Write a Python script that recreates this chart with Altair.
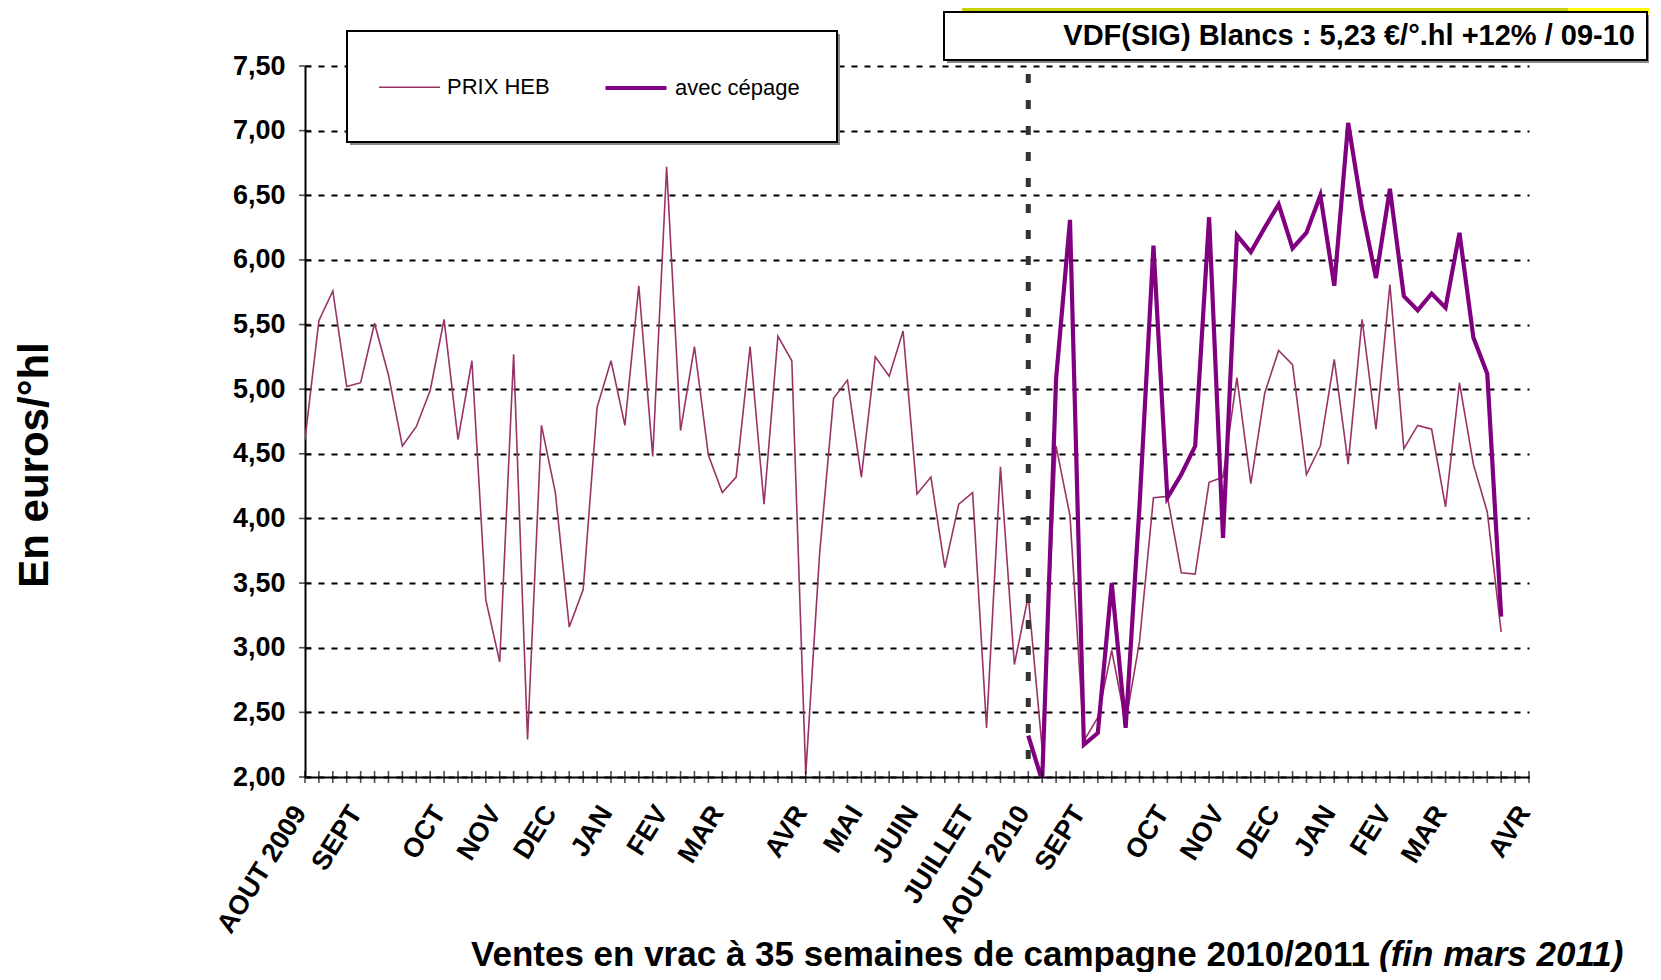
import altair as alt
import pandas as pd

# ---------------- data ----------------
weeks_heb = list(range(87))
prix_heb = [4.61, 5.53, 5.76, 5.02, 5.05, 5.51, 5.11, 4.56, 4.71, 4.99,
            5.54, 4.61, 5.22, 3.37, 2.89, 5.27, 2.29, 4.72, 4.20, 3.16,
            3.45, 4.86, 5.22, 4.72, 5.80, 4.48, 6.72, 4.68, 5.33, 4.49,
            4.20, 4.32, 5.33, 4.11, 5.41, 5.22, 2.02, 3.73, 4.93, 5.07,
            4.32, 5.25, 5.10, 5.45, 4.19, 4.32, 3.62, 4.11, 4.20, 2.38,
            4.40, 2.87, 3.40, 2.22, 4.56, 4.02, 2.28, 2.46, 2.98, 2.42,
            3.05, 4.16, 4.17, 3.58, 3.57, 4.28, 4.32, 5.09, 4.27, 4.97,
            5.30, 5.19, 4.34, 4.56, 5.23, 4.42, 5.54, 4.69, 5.81, 4.54,
            4.72, 4.69, 4.09, 5.05, 4.42, 4.05, 3.12]

weeks_cep = list(range(52, 87))
avec_cepage = [2.32, 1.97, 5.08, 6.31, 2.25, 2.34, 3.50, 2.38, 4.10, 6.11,
               4.16, 4.34, 4.56, 6.33, 3.85, 6.19, 6.06, 6.25, 6.43, 6.09,
               6.21, 6.50, 5.80, 7.06, 6.39, 5.86, 6.55, 5.72, 5.61, 5.74,
               5.63, 6.21, 5.40, 5.12, 3.24]

series_names = ["PRIX HEB", "avec cépage"]
series_colors = ["#993366", "#800080"]
series_widths = [1.6, 4.2]

x_label_pos = [0, 4, 10, 14, 18, 22, 26, 30, 36, 40, 44, 48,
               52, 56, 62, 66, 70, 74, 78, 82, 88]
x_label_txt = ["AOUT 2009", "SEPT", "OCT", "NOV", "DEC", "JAN", "FEV", "MAR",
               "AVR", "MAI", "JUIN", "JUILLET", "AOUT 2010", "SEPT", "OCT",
               "NOV", "DEC", "JAN", "FEV", "MAR", "AVR"]
week_ticks = list(range(0, 89))
y_ticks = [2.0, 2.5, 3.0, 3.5, 4.0, 4.5, 5.0, 5.5, 6.0, 6.5, 7.0, 7.5]
campaign_start = 52

title_text = "VDF(SIG) Blancs : 5,23 €/°.hl +12% / 09-10"
y_title = "En euros/°hl"
x_title_main = "Ventes en vrac à 35 semaines de campagne 2010/2011"
x_title_italic = "(fin mars 2011)"

FONT = "Liberation Sans, Arial, Helvetica, sans-serif"
W, H = 1224, 711

df = pd.DataFrame({
    "semaine": weeks_heb + weeks_cep,
    "prix": prix_heb + avec_cepage,
    "serie": [series_names[0]] * len(weeks_heb) + [series_names[1]] * len(weeks_cep),
})

xscale = alt.Scale(domain=[0, 88], nice=False, zero=False)
yscale = alt.Scale(domain=[2, 7.5], nice=False, zero=False)

label_expr = "''"
for p, t in reversed(list(zip(x_label_pos, x_label_txt))):
    label_expr = f"datum.value == {p} ? '{t}' : " + label_expr

x_axis = alt.Axis(values=x_label_pos, labelExpr=label_expr, labelAngle=-58,
                  labelAlign="right", labelBaseline="middle", labelFont=FONT,
                  labelFontSize=27, labelFontWeight="bold", labelColor="black",
                  labelPadding=31, labelOffset=-5, ticks=False, domainColor="black",
                  domainWidth=2, grid=False, title=None, labelOverlap=False,
                  labelFlush=False)
y_axis = alt.Axis(values=y_ticks, labelExpr="replace(format(datum.value, '.2f'), '.', ',')",
                  labelFont=FONT, labelFontSize=27, labelFontWeight="bold",
                  labelColor="black", labelPadding=20, ticks=False,
                  domainColor="black", domainWidth=2, grid=True, gridColor="black",
                  gridDash=[6, 7], gridWidth=2, title=None)

legend = alt.Legend(orient="none", legendX=73, legendY=-11, direction="horizontal",
                    title=None, symbolType="stroke", symbolSize=3721,
                    labelFont=FONT, labelFontSize=22, labelColor="black",
                    labelOffset=6, columnPadding=47, padding=0)

one = pd.DataFrame({"k": [0]})

# decorative bar + title box
bar_green = alt.Chart(one).mark_rect(color="#c8d400").encode(
    x=alt.value(657), x2=alt.value(1263), y=alt.value(-58), y2=alt.value(-52))
bar_yellow = alt.Chart(one).mark_rect(color="#ffff00").encode(
    x=alt.value(1263), x2=alt.value(1345), y=alt.value(-58), y2=alt.value(-52))
title_shadow = alt.Chart(one).mark_rect(fill="#888888").encode(
    x=alt.value(642), x2=alt.value(1345), y=alt.value(-51), y2=alt.value(-3))
title_box = alt.Chart(one).mark_rect(fill="white", stroke="black", strokeWidth=2).encode(
    x=alt.value(639), x2=alt.value(1342), y=alt.value(-54), y2=alt.value(-6))
title_mark = alt.Chart(one).mark_text(text=title_text, font=FONT, fontSize=29,
                                      fontWeight="bold", align="right",
                                      baseline="middle", color="black").encode(
    x=alt.value(1330), y=alt.value(-30))

# legend frame
legend_shadow = alt.Chart(one).mark_rect(fill="#888888").encode(
    x=alt.value(45), x2=alt.value(535), y=alt.value(-32), y2=alt.value(79))
legend_box = alt.Chart(one).mark_rect(fill="white", stroke="black", strokeWidth=2).encode(
    x=alt.value(42), x2=alt.value(532), y=alt.value(-35), y2=alt.value(76))

# campaign separator
rule = alt.Chart(pd.DataFrame({"semaine": [campaign_start]})).mark_rule(
    color="#333333", strokeWidth=5, strokeDash=[9, 17], strokeDashOffset=18).encode(
    x=alt.X("semaine:Q", scale=xscale, axis=x_axis))

lines = alt.Chart(df).mark_line(clip=True).encode(
    x=alt.X("semaine:Q", scale=xscale, axis=x_axis),
    y=alt.Y("prix:Q", scale=yscale, axis=y_axis),
    color=alt.Color("serie:N", scale=alt.Scale(domain=series_names, range=series_colors),
                    legend=legend),
    strokeWidth=alt.StrokeWidth("serie:N",
                                scale=alt.Scale(type="ordinal", domain=series_names,
                                                range=series_widths),
                                legend=legend),
)

ticks_x = alt.Chart(pd.DataFrame({"semaine": week_ticks, "prix": [2.0] * len(week_ticks)})).mark_tick(
    orient="vertical", size=12, thickness=1.6, color="black").encode(
    x=alt.X("semaine:Q", scale=xscale, axis=x_axis),
    y=alt.Y("prix:Q", scale=yscale, axis=y_axis))
ticks_y = alt.Chart(pd.DataFrame({"semaine": [0] * len(y_ticks), "prix": y_ticks})).mark_tick(
    orient="horizontal", size=12, thickness=1.6, color="black").encode(
    x=alt.X("semaine:Q", scale=xscale, axis=x_axis),
    y=alt.Y("prix:Q", scale=yscale, axis=y_axis))

xt1 = alt.Chart(one).mark_text(text=x_title_main, font=FONT, fontSize=35,
                               fontWeight="bold", align="left", baseline="alphabetic",
                               color="black").encode(x=alt.value(166), y=alt.value(900))
xt2 = alt.Chart(one).mark_text(text=x_title_italic, font=FONT, fontSize=35,
                               fontWeight="bold", fontStyle="italic", align="left",
                               baseline="alphabetic", color="black").encode(
    x=alt.value(1074), y=alt.value(900))
yt = alt.Chart(one).mark_text(text=y_title, font=FONT, fontSize=42, fontWeight="bold",
                              angle=270, align="center", baseline="middle",
                              color="black").encode(x=alt.value(-270), y=alt.value(399))

chart = alt.layer(
    lines, bar_green, bar_yellow, title_shadow, title_box, title_mark,
    legend_shadow, legend_box, rule, ticks_x, ticks_y, xt1, xt2, yt,
).properties(
    width=W, height=H,
    padding={"left": 297, "top": 58, "right": 120, "bottom": 195},
    autosize=alt.AutoSizeParams(type="none"),
).configure(background="white").configure_view(stroke=None)

chart.save("out.html", embed_options={"renderer": "svg", "actions": False})
